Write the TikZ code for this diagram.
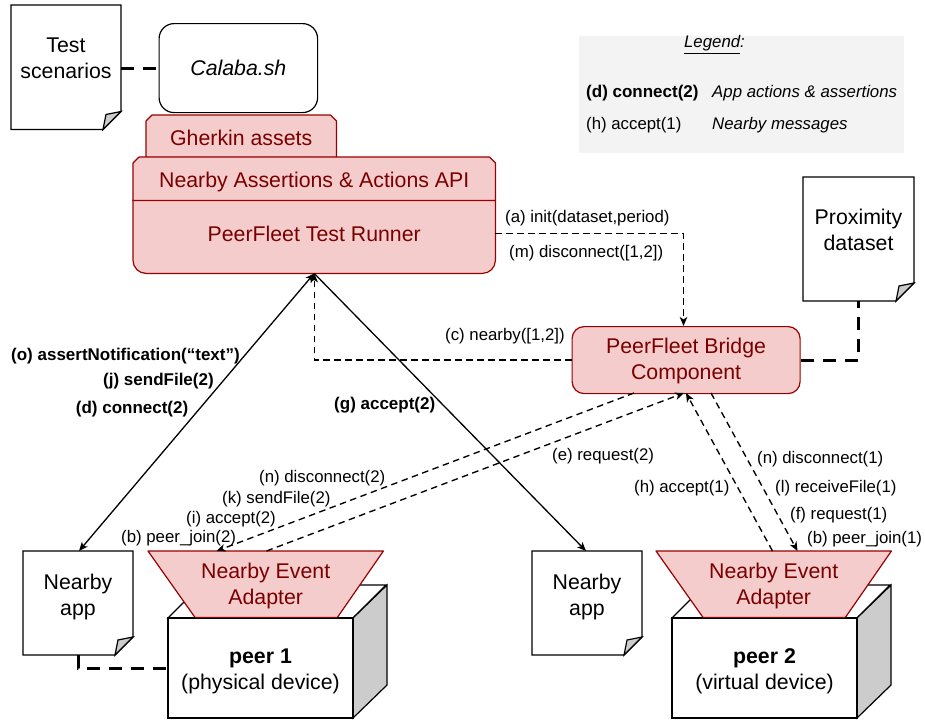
\documentclass[tikz,border=0pt]{standalone}
\usepackage{fontspec}
\setmainfont{Liberation Sans}
\usetikzlibrary{arrows.meta,calc}
\definecolor{rfill}{HTML}{F4CCCC}
\definecolor{rline}{HTML}{990000}
\definecolor{rtext}{HTML}{7A0000}
\definecolor{gfold}{HTML}{CCCCCC}
\definecolor{legendbg}{HTML}{F3F3F3}
\newcommand{\fbig}{\fontsize{21.3}{26}\selectfont}
\newcommand{\fsmall}{\fontsize{16.8}{20}\selectfont}
\newcommand{\fbold}{\fontsize{17}{20}\selectfont\bfseries}
\newcommand{\docnode}[7]{%
  \node[docbox,minimum width=#4,minimum height=#5,anchor=north west] (#1) at (#2,#3) {};
  \draw[blackline,fill=white] (#1.north west) -- (#1.north east) -- ($(#1.south east)+(0,-18)$) -- ($(#1.south east)+(-18,0)$) -- (#1.south west) -- cycle;
  \draw[blackline,fill=gfold] ($(#1.south east)+(0,-18)$) -- ($(#1.south east)+(-15,-15)$) -- ($(#1.south east)+(-18,0)$) -- cycle;
  \node[doctext] (#1t) at ($(#1.north)+(0,#6)$) {#7};
}
\newcommand{\peernode}[2]{%
  \node[docbox,minimum width=185,minimum height=100,anchor=north west] (#1) at (#2,618) {};
  \draw[blackline,fill=white] (#1.north west) -- ++(33,-33) -- ++(185,0) -- (#1.north east) -- cycle;
  \draw[blackline,fill=gfold] (#1.north east) -- ++(34,-33) -- ++(0,100) -- (#1.south east) -- cycle;
}
\newcommand{\adapter}[2]{%
  \node[anchor=north west,inner sep=0,minimum width=235,minimum height=66] (#1) at (#2,551) {};
  \draw[redline,fill=rfill] (#1.north west) -- (#1.north east) -- ($(#1.south east)+(-46,0)$) -- ($(#1.south west)+(47,0)$) -- cycle;
  \node[redtext,align=center] (#1t) at ($(#1.center)+(0,2)$) {Nearby Event\\Adapter};
}
\tikzset{
  docbox/.style={inner sep=0,outer sep=0},
  blackline/.style={draw=black,line width=1.2},
  redline/.style={draw=rline,line width=1.2,line join=round},
  doctext/.style={text=black,font=\fbig,align=center,inner sep=0},
  redtext/.style={text=rtext,font=\fbig,inner sep=0},
  thickdash/.style={draw=black,line width=3,dash pattern=on 13 off 9},
  thindash/.style={draw=black,line width=1.35,dash pattern=on 6.5 off 4.5},
  solidarrow/.style={draw=black,line width=1.3},
  tip/.style={-{Stealth[length=9,width=7.5,inset=2.5]}},
  tipboth/.style={{Stealth[length=9,width=7.5,inset=2.5]}-{Stealth[length=9,width=7.5,inset=2.5]}},
  lbl/.style={font=\fsmall,inner sep=0,anchor=west,text=black},
  blbl/.style={font=\fbold,inner sep=0,anchor=west,text=black},
  ilbl/.style={font=\fsmall\itshape,inner sep=0,anchor=west,text=black},
}
\begin{document}
\begin{tikzpicture}[x=1pt,y=-1pt]
\useasboundingbox (0,0) rectangle (925,720);
\fill[white] (0,0) rectangle (925,720);

% legend
\node[fill=legendbg,minimum width=325,minimum height=117,anchor=north west,inner sep=0] (legend) at (579,36) {};
\node[font=\fsmall\itshape,inner sep=0] (legendt) at (714.5,44.5) {\underline{Legend}:};
\node[blbl] (ld) at (586,93.5) {(d) connect(2)};
\node[ilbl] (ldt) at (712,93.5) {App actions \& assertions};
\node[lbl] (lh) at (586,125) {(h) accept(1)};
\node[ilbl] (lht) at (712,125) {Nearby messages};

% documents
\docnode{scen}{11}{5}{110}{124.5}{53.5}{Test\\scenarios}
\docnode{prox}{803}{177}{111}{124}{53}{Proximity\\dataset}
\docnode{app1}{23}{551}{110}{104}{46}{Nearby\\app}
\docnode{app2}{532}{551}{110}{104}{46}{Nearby\\app}

% calaba
\node[draw=black,line width=1.2,fill=white,rounded corners=15,minimum width=158.5,minimum height=89,anchor=north west,inner sep=0,font=\fbig\itshape] (calaba) at (158.5,23) {Calaba.sh};

% stack
\node[anchor=north west,inner sep=0,minimum width=190,minimum height=42] (gherkin) at (146,115) {};
\draw[redline,fill=rfill] (gherkin.south west) -- ($(gherkin.north west)+(0,6)$) -- ($(gherkin.north west)+(6,0)$) -- ($(gherkin.north east)+(-6,0)$) -- ($(gherkin.north east)+(0,6)$) -- (gherkin.south east) -- cycle;
\node[redtext] (gherkint) at ($(gherkin.center)+(0,2)$) {Gherkin assets};

\node[anchor=north west,inner sep=0,minimum width=362,minimum height=73] (runner) at (133,200) {};
\draw[redline,fill=rfill,rounded corners=13] (runner.north west) -- (runner.south west) -- (runner.south east) -- ($(runner.north east)+(0,13)$) [sharp corners] -- (runner.north east) -- cycle;
\node[redtext] (runnert) at ($(runner.center)+(0,-3)$) {PeerFleet Test Runner};

\node[anchor=north west,inner sep=0,minimum width=362,minimum height=43] (api) at (133,157) {};
\draw[redline,fill=rfill] (api.south west) -- ($(api.north west)+(0,6)$) -- ($(api.north west)+(6,0)$) -- ($(api.north east)+(-6,0)$) -- ($(api.north east)+(0,6)$) -- (api.south east) -- cycle;
\node[redtext] (apit) at ($(api.center)+(0,3)$) {Nearby Assertions \& Actions API};

% bridge
\node[draw=rline,line width=1.2,fill=rfill,rounded corners=12,minimum width=228,minimum height=67,anchor=north west,inner sep=0] (bridge) at (571.5,326) {};
\node[redtext,align=center] (bridget) at ($(bridge.center)+(0,1)$) {PeerFleet Bridge\\Component};

% peers
\peernode{peer1}{168}
\peernode{peer2}{672}
\adapter{ad1}{148}
\adapter{ad2}{656}
\node[docbox,draw=black,line width=1.2,minimum width=185,minimum height=100,anchor=north west] (peer1f) at (168,618) {};
\node[docbox,draw=black,line width=1.2,minimum width=185,minimum height=100,anchor=north west] (peer2f) at (672,618) {};
\draw[redline] ($(ad1.south west)+(47,0)$) -- ($(ad1.south east)+(-46,0)$);
\draw[redline] ($(ad2.south west)+(47,0)$) -- ($(ad2.south east)+(-46,0)$);
\node[doctext] (p1t) at ($(peer1f.center)+(0,3)$) {\textbf{peer 1}\\(physical device)};
\node[doctext] (p2t) at ($(peer2f.center)+(0,3)$) {\textbf{peer 2}\\(virtual device)};

% thick dashed connectors
\draw[thickdash] (scen.east |- calaba.west) -- (calaba.west);
\draw[thickdash] (bridge.east) -| (prox.south);
\draw[thickdash] (app1.south) |- (peer1f.west |- 0,668);

% thin dashed connectors
\coordinate (rE) at (runner.east |- 0,233.5);
\coordinate (bN) at (683.5,326);
\draw[thindash,tip] (rE) -| (bN);
\draw[thindash,tip] (bridge.west) -| (runner.south);

\coordinate (b1) at (634,393);
\coordinate (a1in) at (216.5,551);
\coordinate (a1out) at (266.5,551);
\coordinate (b2) at (684,393);
\coordinate (b3) at (686,393);
\coordinate (a2out) at (772.5,551);
\coordinate (b4) at (711,393);
\coordinate (a2in) at (797.5,551);
\draw[thindash,tip] (b1) -- (a1in);
\draw[thindash,tip] (a1out) -- (b2);
\draw[thindash,tip] (a2out) -- (b3);
\draw[thindash,tip] (b4) -- (a2in);

% solid connectors
\coordinate (app1N) at (79,551);
\coordinate (app2N) at (586,551);
\draw[solidarrow,tipboth] (runner.south) -- (app1N);
\draw[solidarrow,tip] (runner.south) -- (app2N);

% labels
\node[lbl] (la) at (505,218) {(a) init(dataset,period)};
\node[lbl] (lm) at (509,253.5) {(m) disconnect([1,2])};
\node[lbl] (lc) at (445,336) {(c) nearby([1,2])};
\node[blbl] (lo) at (11,356) {(o) assertNotification(“text”)};
\node[blbl] (lj) at (103,381) {(j) sendFile(2)};
\node[blbl] (ldd) at (75.7,409) {(d) connect(2)};
\node[blbl] (lg) at (334,405) {(g) accept(2)};
\node[lbl] (ln2) at (259,478) {(n) disconnect(2)};
\node[lbl] (lk) at (222,499) {(k) sendFile(2)};
\node[lbl] (li) at (186,518.7) {(i) accept(2)};
\node[lbl] (lb2) at (121,538) {(b) peer\_join(2)};
\node[lbl] (le) at (552,456) {(e) request(2)};
\node[lbl] (lh1) at (634,488) {(h) accept(1)};
\node[lbl] (ln1) at (757,458.7) {(n) disconnect(1)};
\node[lbl] (ll) at (775,488) {(l) receiveFile(1)};
\node[lbl] (lf) at (790,515.5) {(f) request(1)};
\node[lbl] (lb1) at (807,539.5) {(b) peer\_join(1)};
\end{tikzpicture}
\end{document}
